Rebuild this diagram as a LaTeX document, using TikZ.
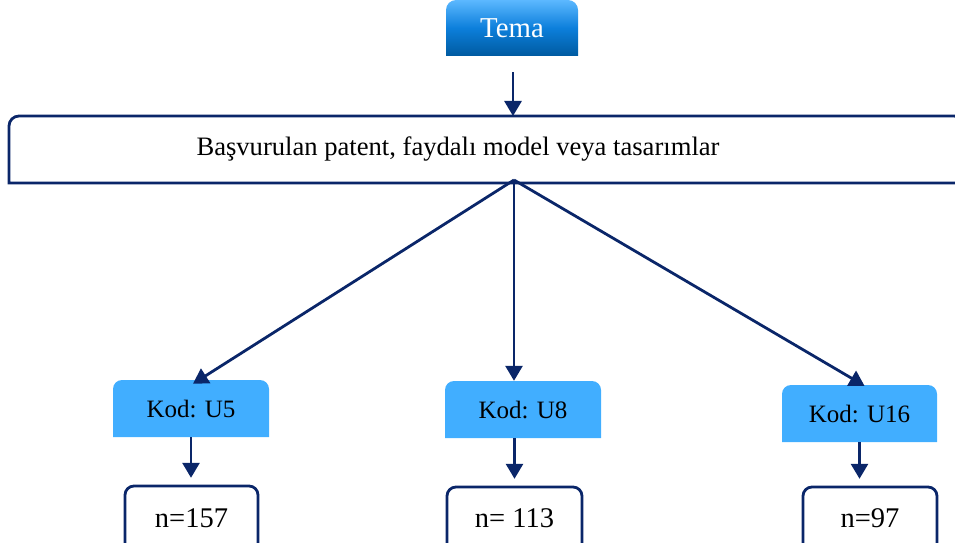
\documentclass[tikz,border=0pt]{standalone}
\usepackage{fontspec}
\setmainfont{Liberation Serif}
\usetikzlibrary{arrows.meta,calc}
\definecolor{navy}{RGB}{10,38,105}
\definecolor{kodblue}{RGB}{65,174,255}
\definecolor{tematop}{RGB}{92,184,255}
\definecolor{temamid}{RGB}{12,127,219}
\definecolor{temabot}{RGB}{0,90,160}
% outline of a box with rounded top corners: x1, y1 (bottom), x2, y2 (top), radius
\newcommand\toprect[5]{(#1,#2) -- (#1,#4-#5) arc[start angle=180,end angle=90,radius=#5pt] -- (#3-#5,#4) arc[start angle=90,end angle=0,radius=#5pt] -- (#3,#2)}
\begin{document}
\begin{tikzpicture}[x=1pt,y=1pt,
  arr/.style={draw=navy, line width=2.8pt, -{Triangle[length=15pt,width=17pt]}},
  boxline/.style={draw=navy, line width=2.8pt, fill=white},
  kodfill/.style={fill=kodblue},
  label/.style={inner sep=0pt, font=\fontsize{26}{30}\selectfont},
  kodtext/.style={label, font=\fontsize{25}{30}\selectfont},
  ntext/.style={label, font=\fontsize{28.5}{32}\selectfont},
  slot/.style={kodtext, minimum width=#1, minimum height=57}]
\useasboundingbox (0,0) rectangle (955,542);
\clip (0,0) rectangle (955,542);

% box shapes
\shade[top color=tematop, bottom color=temabot, middle color=temamid] \toprect{446}{486}{578}{542}{10} -- cycle;
\draw[boxline] \toprect{9}{359}{964}{426}{10} -- cycle;
\fill[kodfill] \toprect{113}{105}{269}{162}{9} -- cycle;
\fill[kodfill] \toprect{445}{104}{601}{161}{9} -- cycle;
\fill[kodfill] \toprect{782}{100}{937}{157}{9} -- cycle;
\draw[boxline] \toprect{125}{-10}{258}{56}{9};
\draw[boxline] \toprect{447}{-10}{582}{55}{9};
\draw[boxline] \toprect{803}{-10}{937}{55}{9};

% labels
\node[label, text=white, minimum width=132, minimum height=56, font=\fontsize{28.8}{32}\selectfont] (tema) at (512,514) {Tema};
\node[label, font=\fontsize{26.6}{30}\selectfont] (big) at (458,393) {Başvurulan patent, faydalı model veya tasarımlar};
\coordinate (bigtop) at (513,426);
\coordinate (hub) at (514,362);
\node[slot=156] (kod5) at (191,133.5) {Kod: U5};
\node[slot=156] (kod8) at (523,132.5) {Kod: U8};
\node[slot=155] (kod16) at (859.5,128.5) {Kod: U16};
\node[ntext, minimum width=133, minimum height=64] (n157) at (191.5,24) {n=157};
\node[ntext, minimum width=135, minimum height=62] (n113) at (514.5,24) {n= 113};
\node[ntext, minimum width=134, minimum height=62] (n97) at (870,24) {n=97};

% connectors
\draw[arr, shorten <=16pt] (tema.south -| bigtop) -- (bigtop);
\draw[arr] (hub) -- ($(kod5.north)+(2,-4)$);
\draw[arr] (hub) -- (hub |- kod8.north);
\draw[arr] (hub) -- ($(kod16.north)+(5,-1)$);
\draw[arr, shorten >=8pt] (kod5.south) -- (kod5.south |- n157.north);
\draw[arr, shorten >=8pt] (n113.north |- kod8.south) -- (n113.north);
\draw[arr, shorten >=8pt] (kod16.south) -- (kod16.south |- n97.north);
\end{tikzpicture}
\end{document}
